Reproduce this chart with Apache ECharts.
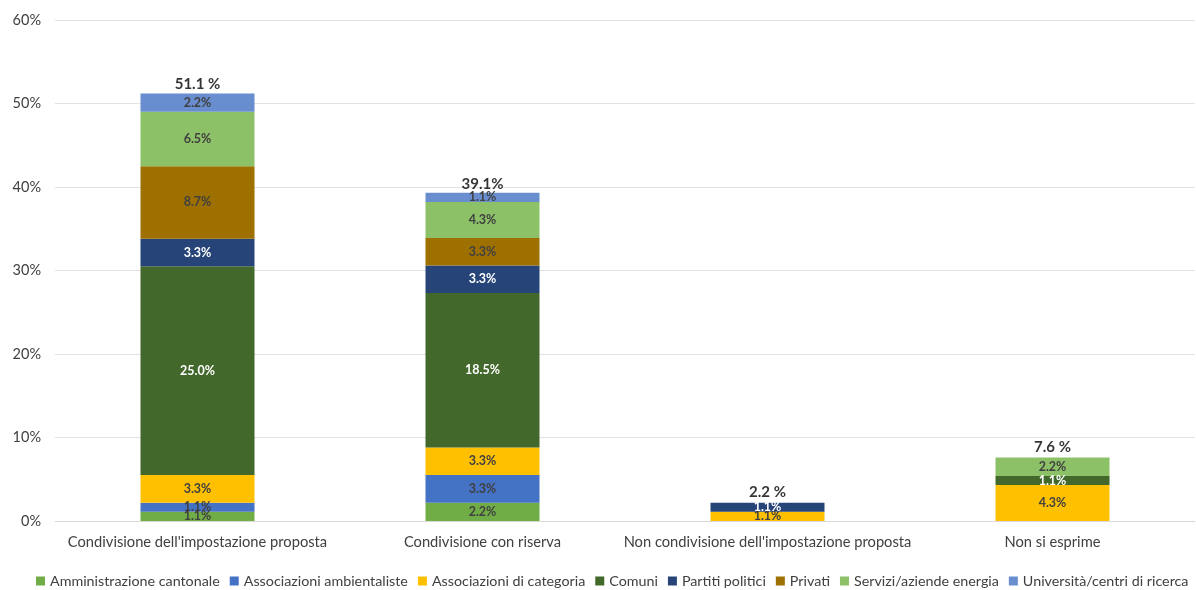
<!DOCTYPE html>
<html>
<head>
<meta charset="utf-8">
<script src="https://cdn.jsdelivr.net/npm/echarts@6/dist/echarts.min.js"></script>
<style>
html,body{margin:0;padding:0;background:#fff;}
#chart{width:1196px;height:590px;}
</style>
</head>
<body>
<div id="chart"></div>
<script>
const categories = ["Condivisione dell'impostazione proposta", "Condivisione con riserva", "Non condivisione dell'impostazione proposta", "Non si esprime"];
const seriesNames = ["Amministrazione cantonale", "Associazioni ambientaliste", "Associazioni di categoria", "Comuni", "Partiti politici", "Privati", "Servizi/aziende energia", "Università/centri di ricerca"];
const amministrazione = [1.1, 2.2, null, null];
const ambientaliste = [1.1, 3.3, null, null];
const categoria = [3.3, 3.3, 1.1, 4.3];
const comuni = [25.0, 18.5, null, 1.1];
const partiti = [3.3, 3.3, 1.1, null];
const privati = [8.7, 3.3, null, null];
const servizi = [6.5, 4.3, null, 2.2];
const universita = [2.2, 1.1, null, null];
const totals = [51.1, 39.1, 2.2, 7.6];
const totalLabels = ["51.1 %", "39.1%", "2.2 %", "7.6 %"];
const yTicks = [0, 10, 20, 30, 40, 50, 60];

const seriesData = [amministrazione, ambientaliste, categoria, comuni, partiti, privati, servizi, universita];
const colors = ["#70AD47", "#4472C4", "#FFC000", "#43682B", "#264478", "#9E7000", "#8CC168", "#698ED0"];
const labelColors = ["#404040", "#404040", "#404040", "#ffffff", "#ffffff", "#404040", "#404040", "#404040"];
const FONT = "Lato, 'Open Sans', sans-serif";

const series = seriesNames.map((name, i) => ({
  name: name,
  type: 'bar',
  stack: 'total',
  barWidth: 114,
  data: seriesData[i],
  itemStyle: { color: colors[i] },
  label: {
    show: true,
    position: 'inside',
    formatter: p => p.value.toFixed(1) + '%',
    color: labelColors[i],
    fontFamily: FONT,
    fontWeight: 'bold',
    fontSize: 12.5
  },
  emphasis: { disabled: true }
}));
series.push({
  name: 'Totale',
  type: 'scatter',
  data: totals,
  symbolSize: 0,
  silent: true,
  label: {
    show: true,
    position: 'top',
    distance: 3,
    formatter: p => totalLabels[p.dataIndex],
    color: '#000',
    fontFamily: FONT,
    fontWeight: 'bold',
    fontSize: 15
  }
});

const chart = echarts.init(document.getElementById('chart'));
chart.setOption({
  animation: false,
  grid: { left: 55, right: 1, top: 20, bottom: 69, containLabel: false },
  legend: {
    data: seriesNames,
    top: 574,
    left: 36,
    width: 1400,
    padding: 0,
    itemWidth: 9,
    itemHeight: 9,
    itemGap: 10,
    icon: 'rect',
    textStyle: { fontFamily: FONT, fontSize: 14.3, color: '#404040' }
  },
  xAxis: {
    type: 'category',
    data: categories,
    axisTick: { show: false },
    axisLine: { lineStyle: { color: '#D9D9D9' } },
    axisLabel: { interval: 0, fontFamily: FONT, fontSize: 14.7, color: '#404040', margin: 14 }
  },
  yAxis: {
    type: 'value',
    min: yTicks[0],
    max: yTicks[yTicks.length - 1],
    interval: 10,
    axisLine: { show: false },
    axisTick: { show: false },
    splitLine: { lineStyle: { color: '#E3E3E3' } },
    axisLabel: { fontFamily: FONT, fontSize: 14.5, color: '#404040', margin: 14, formatter: v => v + '%' }
  },
  series: series
});
</script>
</body>
</html>
